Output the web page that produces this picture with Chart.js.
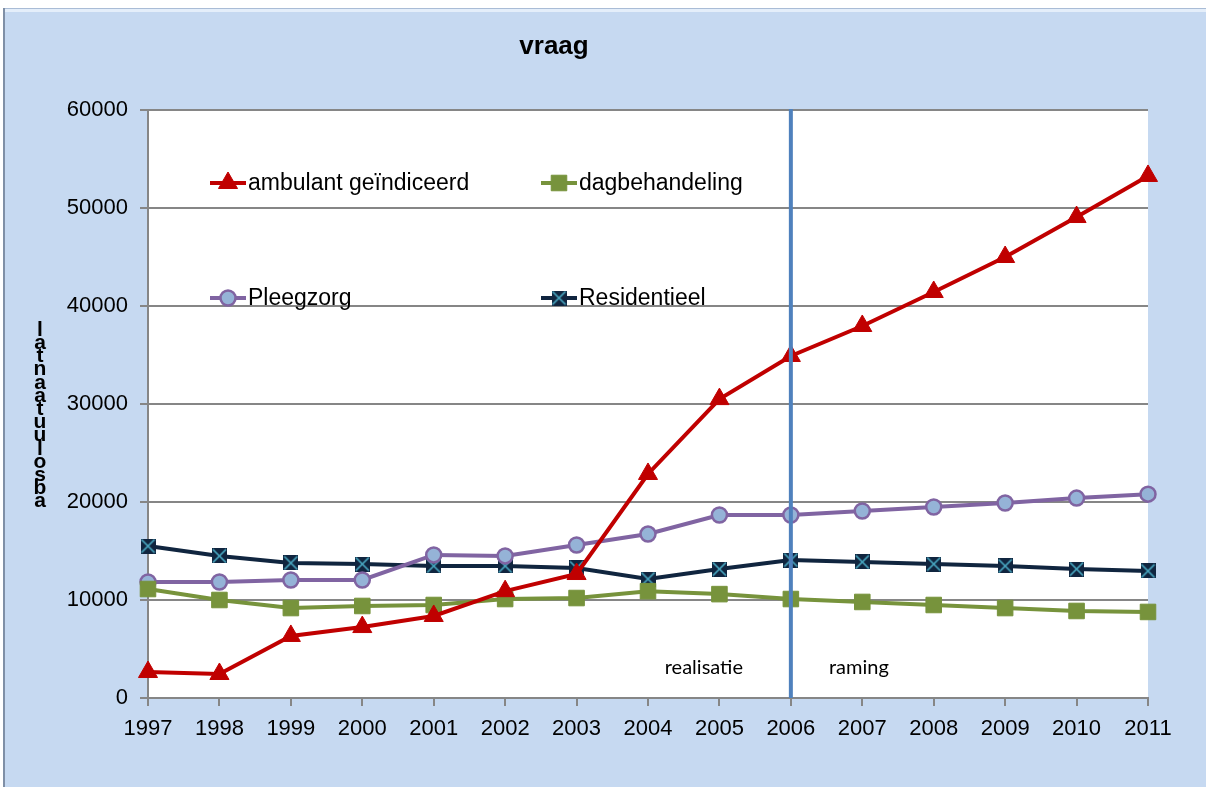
<!DOCTYPE html>
<html>
<head>
<meta charset="utf-8">
<script src="https://cdn.jsdelivr.net/npm/chart.js@4.4.1/dist/chart.umd.min.js"></script>
<style>
  html, body { margin: 0; padding: 0; background: #fff; }
  #wrap { width: 1206px; height: 787px; position: relative; }
</style>
</head>
<body>
<div id="wrap"><canvas id="chart" width="1206" height="787"></canvas></div>
<script>
const years = ['1997', '1998', '1999', '2000', '2001', '2002', '2003', '2004', '2005', '2006', '2007', '2008', '2009', '2010', '2011'];

const ambulant = [2650, 2450, 6330, 7240, 8370, 10900, 12650, 22860, 30500, 34900, 37960, 41430, 45000, 49080, 53270];
const dagbehandeling = [11120, 10000, 9180, 9390, 9490, 10100, 10200, 10900, 10600, 10100, 9800, 9490, 9180, 8880, 8780];
const pleegzorg = [11840, 11840, 12040, 12040, 14600, 14500, 15610, 16730, 18670, 18670, 19080, 19490, 19900, 20400, 20800];
const residentieel = [15510, 14490, 13780, 13670, 13470, 13470, 13270, 12140, 13160, 14080, 13880, 13670, 13470, 13160, 12960];

const seriesNames = ['ambulant geïndiceerd', 'dagbehandeling', 'Pleegzorg', 'Residentieel'];
const yTicks = [0, 10000, 20000, 30000, 40000, 50000, 60000];
const splitYear = '2006';
const titleText = 'vraag';
const yTitle = 'absoluut aantal';

// square with a cross for Residentieel
function crossBox() {
  const c = document.createElement('canvas');
  c.width = 15; c.height = 15;
  const g = c.getContext('2d');
  g.fillStyle = '#10253F';
  g.fillRect(0, 0, 15, 15);
  g.strokeStyle = '#4BACC6';
  g.lineWidth = 1.6;
  g.beginPath();
  g.moveTo(1, 1); g.lineTo(14, 14);
  g.moveTo(14, 1); g.lineTo(1, 14);
  g.stroke();
  return c;
}
const crossImg = crossBox();

const frame = {
  id: 'frame',
  beforeDraw(chart) {
    const ctx = chart.ctx;
    const a = chart.chartArea;
    ctx.save();
    ctx.fillStyle = '#C6D9F1';
    ctx.fillRect(5, 9, 1201, 778);
    ctx.fillStyle = '#E4EEFA';
    ctx.fillRect(5, 9, 1201, 3);
    ctx.fillStyle = '#7F8FA6';
    ctx.fillRect(3, 8, 2, 779);
    ctx.fillStyle = '#A9BCD6';
    ctx.fillRect(5, 8, 1201, 1);
    ctx.fillStyle = '#ffffff';
    ctx.fillRect(a.left, a.top, a.right - a.left, a.bottom - a.top);

    ctx.fillStyle = '#000';
    ctx.font = 'bold 26px "Liberation Sans", Arial, sans-serif';
    ctx.textAlign = 'center';
    ctx.textBaseline = 'middle';
    ctx.fillText(titleText, 554, 47);

    // stacked, reversed axis title as in the source
    ctx.font = 'bold 21px "Liberation Sans", Arial, sans-serif';
    const letters = yTitle.replace(' ', '').split('').reverse();
    letters.forEach((ch, i) => ctx.fillText(ch, 40, 330 + i * 13.2));
    ctx.restore();
  },
  afterDatasetsDraw(chart) {
    const ctx = chart.ctx;
    const a = chart.chartArea;
    const xs = chart.scales.x, ys = chart.scales.y;
    const lx = xs.getPixelForValue(years.indexOf(splitYear));
    ctx.save();
    ctx.strokeStyle = '#4F81BD';
    ctx.lineWidth = 4;
    ctx.beginPath();
    ctx.moveTo(lx, a.top - 1);
    ctx.lineTo(lx, a.bottom);
    ctx.stroke();

    ctx.fillStyle = '#000';
    ctx.font = '20px Lato, "Open Sans", sans-serif';
    ctx.textAlign = 'center';
    ctx.textBaseline = 'middle';
    const ty = ys.getPixelForValue(3100);
    ctx.fillText('realisatie', lx - 87, ty);
    ctx.fillText('raming', lx + 68, ty);

    // legend inside plot area, two columns
    const pos = [[210, 183], [541, 183], [210, 298], [541, 298]];
    chart.data.datasets.forEach((ds, i) => {
      const [x0, y0] = pos[i];
      ctx.strokeStyle = ds.borderColor;
      ctx.lineWidth = 4;
      ctx.beginPath();
      ctx.moveTo(x0, y0);
      ctx.lineTo(x0 + 36, y0);
      ctx.stroke();
      ctx.fillStyle = ds.pointBackgroundColor;
      ctx.strokeStyle = ds.pointBorderColor;
      ctx.lineWidth = ds.pointBorderWidth;
      Chart.helpers.drawPoint(ctx, {
        pointStyle: ds.pointStyle,
        radius: ds.pointRadius,
        borderWidth: ds.pointBorderWidth,
        rotation: 0
      }, x0 + 18, y0);
      ctx.fillStyle = '#000';
      ctx.font = '23px "Liberation Sans", Arial, sans-serif';
      ctx.textAlign = 'left';
      ctx.fillText(seriesNames[i], x0 + 38, y0 + 1);
    });
    ctx.restore();
  }
};

new Chart(document.getElementById('chart'), {
  type: 'line',
  plugins: [frame],
  data: {
    labels: years,
    datasets: [
      {
        label: seriesNames[0], data: ambulant,
        borderColor: '#C00000', backgroundColor: '#C00000',
        pointBackgroundColor: '#C00000', pointBorderColor: '#C00000',
        pointStyle: 'triangle', pointRadius: 11, pointBorderWidth: 1, borderWidth: 4
      },
      {
        label: seriesNames[1], data: dagbehandeling,
        borderColor: '#77933C', backgroundColor: '#77933C',
        pointBackgroundColor: '#77933C', pointBorderColor: '#77933C',
        pointStyle: 'rect', pointRadius: 11, pointBorderWidth: 1, borderWidth: 4
      },
      {
        label: seriesNames[2], data: pleegzorg,
        borderColor: '#8064A2', backgroundColor: '#95B3D7',
        pointBackgroundColor: '#95B3D7', pointBorderColor: '#8064A2',
        pointStyle: 'circle', pointRadius: 7.5, pointBorderWidth: 2.5, borderWidth: 4
      },
      {
        label: seriesNames[3], data: residentieel,
        borderColor: '#10253F', backgroundColor: '#10253F',
        pointBackgroundColor: '#10253F', pointBorderColor: '#10253F',
        pointStyle: crossImg, pointRadius: 8, pointBorderWidth: 1, borderWidth: 4
      }
    ]
  },
  options: {
    responsive: false,
    animation: false,
    layout: { padding: { top: 110, right: 58, left: 0, bottom: 0 } },
    plugins: {
      legend: { display: false },
      title: { display: false },
      tooltip: { enabled: false }
    },
    scales: {
      x: {
        offset: false,
        afterFit(s) { s.height = 89; },
        grid: { display: true, drawOnChartArea: false, drawTicks: true, tickLength: 8, color: '#868686', lineWidth: 2 },
        border: { color: '#868686', width: 2 },
        ticks: { color: '#000', padding: 10, maxRotation: 0, autoSkip: false, font: { family: '"Liberation Sans", Arial, sans-serif', size: 22 } }
      },
      y: {
        min: yTicks[0], max: yTicks[yTicks.length - 1],
        afterFit(s) { s.width = 148; },
        afterBuildTicks(s) { s.ticks = yTicks.map(v => ({ value: v })); },
        grid: { color: '#868686', lineWidth: 2, tickLength: 8 },
        border: { color: '#868686', width: 2 },
        ticks: {
          color: '#000', padding: 12,
          font: { family: '"Liberation Sans", Arial, sans-serif', size: 22 },
          callback: v => String(v)
        }
      }
    }
  }
});
</script>
</body>
</html>
